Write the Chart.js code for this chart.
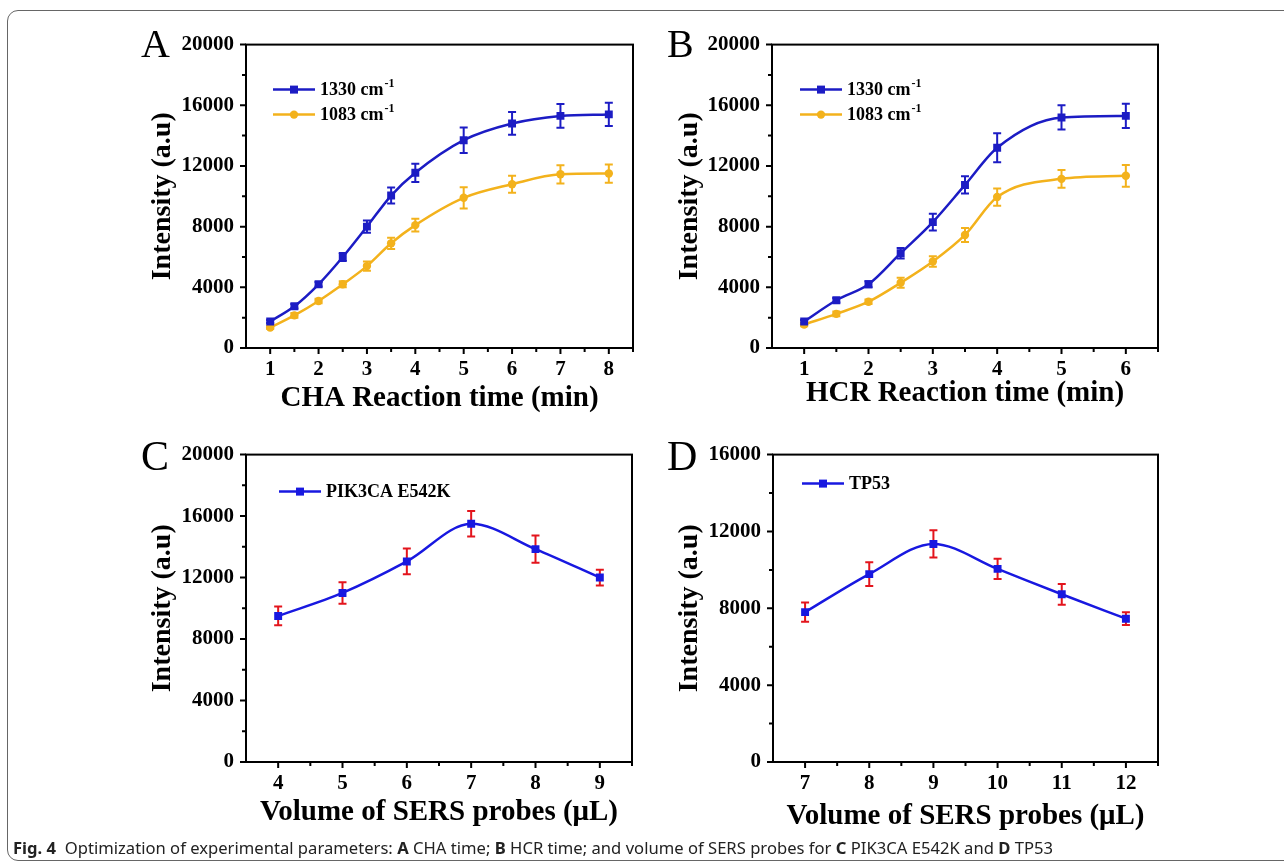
<!DOCTYPE html>
<html>
<head>
<meta charset="utf-8">
<script src="https://cdn.jsdelivr.net/npm/chart.js@4"></script>
<style>
  html, body { margin: 0; padding: 0; background: #fff; }
  body { width: 1284px; height: 866px; position: relative; overflow: hidden; }
  .frame { position: absolute; left: 7px; top: 10px; width: 1300px; height: 851px;
           border: 1.5px solid #666; border-radius: 11px; box-sizing: border-box; }
  canvas { position: absolute; }
  .tag { position: absolute; font-family: "Liberation Serif", serif; color: #000; line-height: 40px; }
  .caption { position: absolute; left: 13px; top: 837px; font-family: "Noto Sans", sans-serif;
             font-size: 16px; color: #222; white-space: nowrap; transform-origin: 0 0; }
  .caption b { font-weight: 700; }
</style>
</head>
<body>
<div class="frame"></div>

<canvas id="chartA" width="520" height="400" style="left:130px;top:20px"></canvas>
<canvas id="chartB" width="520" height="400" style="left:650px;top:20px"></canvas>
<canvas id="chartC" width="520" height="410" style="left:130px;top:430px"></canvas>
<canvas id="chartD" width="520" height="410" style="left:650px;top:430px"></canvas>

<div class="tag" style="left:141px;top:24px;font-size:40px">A</div>
<div class="tag" style="left:667px;top:24px;font-size:40px">B</div>
<div class="tag" style="left:141px;top:436px;font-size:42px">C</div>
<div class="tag" style="left:667px;top:436px;font-size:42px">D</div>

<div class="caption" id="caption"><b>Fig. 4</b>&nbsp; Optimization of experimental parameters: <b>A</b> CHA time; <b>B</b> HCR time; and volume of SERS probes for <b>C</b> PIK3CA E542K and <b>D</b> TP53</div>

<script>
// panel A - CHA reaction time
const timeA = [1, 1.5, 2, 2.5, 3, 3.5, 4, 5, 6, 7, 8];
const a1330 = [1750, 2750, 4200, 6000, 8000, 10050, 11550, 13700, 14800, 15300, 15400];
const a1330Err = [100, 150, 150, 270, 400, 530, 600, 840, 750, 780, 770];
const a1083 = [1350, 2150, 3100, 4200, 5400, 6900, 8100, 9900, 10800, 11450, 11500];
const a1083Err = [100, 150, 150, 200, 300, 370, 420, 700, 560, 600, 600];
const ticksA = [1, 2, 3, 4, 5, 6, 7, 8];

// panel B - HCR reaction time
const timeB = [1, 1.5, 2, 2.5, 3, 3.5, 4, 5, 6];
const b1330 = [1750, 3150, 4200, 6250, 8300, 10750, 13200, 15200, 15300];
const b1330Err = [100, 150, 200, 350, 550, 570, 960, 800, 800];
const b1083 = [1550, 2250, 3050, 4300, 5700, 7450, 9950, 11150, 11350];
const b1083Err = [120, 150, 150, 330, 350, 460, 570, 590, 720];
const ticksB = [1, 2, 3, 4, 5, 6];

// panel C - PIK3CA E542K probe volume
const volC = [4, 5, 6, 7, 8, 9];
const cPik = [9500, 11000, 13050, 15500, 13850, 12000];
const cPikErr = [610, 700, 840, 825, 880, 510];

// panel D - TP53 probe volume
const volD = [7, 8, 9, 10, 11, 12];
const dTp53 = [7800, 9780, 11350, 10050, 8730, 7460];
const dTp53Err = [500, 620, 710, 530, 540, 330];

const yTicks20k = [0, 4000, 8000, 12000, 16000, 20000];
const yTicks16k = [0, 4000, 8000, 12000, 16000];

const BLUE = '#1c1cc4';
const BLUE2 = '#1818e0';
const YELLOW = '#f3b21c';
const RED = '#e3141c';
const SERIF = '"Liberation Serif", "Times New Roman", serif';

function pts(xs, ys) {
  return xs.map((x, i) => ({ x: x, y: ys[i] }));
}

function marker(ctx, style, x, y, color) {
  ctx.fillStyle = color;
  if (style === 'rect') {
    ctx.fillRect(x - 4, y - 4, 8, 8);
  } else {
    ctx.beginPath();
    ctx.arc(x, y, 4.2, 0, Math.PI * 2);
    ctx.fill();
  }
}

// error bars, axis box, ticks and the in-plot legend
const frame = {
  id: 'frame',
  beforeDatasetsDraw(chart) {
    const ctx = chart.ctx;
    const ys = chart.scales.y;
    chart.data.datasets.forEach((ds, i) => {
      const meta = chart.getDatasetMeta(i);
      ctx.save();
      ctx.strokeStyle = ds.errorColor;
      ctx.lineWidth = 2;
      meta.data.forEach((p, j) => {
        const v = ds.data[j].y, e = ds.errors[j];
        const t = ys.getPixelForValue(v + e), b = ys.getPixelForValue(v - e);
        ctx.beginPath();
        ctx.moveTo(p.x, t); ctx.lineTo(p.x, b);
        ctx.moveTo(p.x - 4, t); ctx.lineTo(p.x + 4, t);
        ctx.moveTo(p.x - 4, b); ctx.lineTo(p.x + 4, b);
        ctx.stroke();
      });
      ctx.restore();
    });
  },
  afterDraw(chart, args, opts) {
    const ctx = chart.ctx;
    const a = chart.chartArea;
    const xs = chart.scales.x, ys = chart.scales.y;
    ctx.save();
    ctx.strokeStyle = '#000';
    ctx.lineWidth = 2;
    ctx.strokeRect(a.left, a.top, a.right - a.left, a.bottom - a.top);

    // ticks pointing out, minor ones halfway
    ctx.beginPath();
    const xt = opts.xTicks;
    for (let i = 0; i < xt.length; i++) {
      const px = xs.getPixelForValue(xt[i]);
      ctx.moveTo(px, a.bottom); ctx.lineTo(px, a.bottom + 6);
      const half = i < xt.length - 1 ? (xt[i] + xt[i + 1]) / 2 : xt[i] + (xt[i] - xt[i - 1]) / 2;
      const ph = xs.getPixelForValue(half);
      if (ph <= a.right + 1) { ctx.moveTo(ph, a.bottom); ctx.lineTo(ph, a.bottom + 4); }
    }
    const yt = opts.yTicks;
    for (let i = 0; i < yt.length; i++) {
      const py = ys.getPixelForValue(yt[i]);
      ctx.moveTo(a.left, py); ctx.lineTo(a.left - 6, py);
      if (i < yt.length - 1) {
        const ph = ys.getPixelForValue((yt[i] + yt[i + 1]) / 2);
        ctx.moveTo(a.left, ph); ctx.lineTo(a.left - 4, ph);
      }
    }
    ctx.stroke();

    // legend
    let ly = a.top + opts.legendTop;
    const lx = a.left + opts.legendLeft;
    chart.data.datasets.forEach((ds) => {
      ctx.strokeStyle = ds.borderColor;
      ctx.lineWidth = 2.5;
      ctx.beginPath();
      ctx.moveTo(lx, ly); ctx.lineTo(lx + 42, ly);
      ctx.stroke();
      marker(ctx, ds.pointStyle, lx + 21, ly, ds.borderColor);
      ctx.fillStyle = '#000';
      ctx.font = 'bold 18px ' + SERIF;
      ctx.textBaseline = 'middle';
      ctx.textAlign = 'left';
      ctx.fillText(ds.label, lx + 47, ly + 1);
      if (ds.sup) {
        const w = ctx.measureText(ds.label).width;
        ctx.font = 'bold 12px ' + SERIF;
        ctx.fillText(ds.sup, lx + 47 + w + 1, ly - 6);
      }
      ly += opts.legendGap;
    });
    ctx.restore();
  }
};

function series(label, sup, xs, ys, errs, color, style, errColor) {
  return {
    label: label,
    sup: sup,
    data: pts(xs, ys),
    errors: errs,
    errorColor: errColor || color,
    borderColor: color,
    backgroundColor: color,
    borderWidth: 2.5,
    cubicInterpolationMode: 'monotone',
    pointStyle: style,
    pointRadius: style === 'rect' ? 5.6 : 4.2,
    pointBorderWidth: 0,
    pointBackgroundColor: color
  };
}

function makeChart(id, cfg) {
  return new Chart(document.getElementById(id), {
    type: 'line',
    data: { datasets: cfg.datasets },
    options: {
      responsive: false,
      animation: false,
      devicePixelRatio: 1,
      layout: { padding: { left: 0, top: cfg.padTop, right: cfg.padRight, bottom: 0 } },
      plugins: {
        legend: { display: false },
        tooltip: { enabled: false },
        frame: {
          xTicks: cfg.xTicks, yTicks: cfg.yTicks,
          legendLeft: cfg.legendLeft, legendTop: cfg.legendTop, legendGap: 25
        }
      },
      scales: {
        x: {
          type: 'linear',
          min: cfg.xMin, max: cfg.xMax,
          grid: { display: false, drawTicks: false },
          border: { display: false },
          afterBuildTicks: (s) => { s.ticks = cfg.xTicks.map(v => ({ value: v })); },
          afterFit: (s) => { s.height = cfg.xH; },
          ticks: { padding: 9, color: '#000', font: { family: SERIF, size: 21, weight: 'bold' },
                   callback: (v) => String(v) },
          title: { display: true, text: cfg.xTitle, color: '#000',
                   font: { family: SERIF, size: 29, weight: 'bold' },
                   padding: { top: 0, bottom: cfg.xTitlePad } }
        },
        y: {
          min: 0, max: cfg.yMax,
          grid: { display: false, drawTicks: false },
          border: { display: false },
          afterBuildTicks: (s) => { s.ticks = cfg.yTicks.map(v => ({ value: v })); },
          afterFit: (s) => { s.width = cfg.yW; },
          ticks: { padding: 12, color: '#000', font: { family: SERIF, size: 21, weight: 'bold' },
                   callback: (v) => String(v) },
          title: { display: true, text: 'Intensity (a.u)', color: '#000',
                   font: { family: SERIF, size: 28, weight: 'bold' },
                   padding: { top: cfg.yTitlePad, bottom: 0 } }
        }
      }
    },
    plugins: [frame]
  });
}

function drawAll() {
  makeChart('chartA', {
    datasets: [
      series('1330 cm', '-1', timeA, a1330, a1330Err, BLUE, 'rect'),
      series('1083 cm', '-1', timeA, a1083, a1083Err, YELLOW, 'circle')
    ],
    xMin: 0.5, xMax: 8.5, xTicks: ticksA, yMax: 20000, yTicks: yTicks20k,
    padTop: 16, padRight: 17, yW: 116, xH: 72, yTitlePad: 16, xTitlePad: 4,
    xTitle: 'CHA Reaction time (min)', legendLeft: 27, legendTop: 45
  });
  makeChart('chartB', {
    datasets: [
      series('1330 cm', '-1', timeB, b1330, b1330Err, BLUE, 'rect'),
      series('1083 cm', '-1', timeB, b1083, b1083Err, YELLOW, 'circle')
    ],
    xMin: 0.5, xMax: 6.5, xTicks: ticksB, yMax: 20000, yTicks: yTicks20k,
    padTop: 16, padRight: 12, yW: 122, xH: 72, yTitlePad: 23, xTitlePad: 9,
    xTitle: 'HCR Reaction time (min)', legendLeft: 28, legendTop: 45
  });
  makeChart('chartC', {
    datasets: [
      series('PIK3CA E542K', '', volC, cPik, cPikErr, BLUE2, 'rect', RED)
    ],
    xMin: 3.5, xMax: 9.5, xTicks: volC, yMax: 20000, yTicks: yTicks20k,
    padTop: 21, padRight: 18, yW: 116, xH: 78, yTitlePad: 16, xTitlePad: 10,
    xTitle: 'Volume of SERS probes (\u03bcL)', legendLeft: 33, legendTop: 37
  });
  makeChart('chartD', {
    datasets: [
      series('TP53', '', volD, dTp53, dTp53Err, BLUE2, 'rect', RED)
    ],
    xMin: 6.5, xMax: 12.5, xTicks: volD, yMax: 16000, yTicks: yTicks16k,
    padTop: 21, padRight: 12, yW: 123, xH: 78, yTitlePad: 23, xTitlePad: 6,
    xTitle: 'Volume of SERS probes (\u03bcL)', legendLeft: 29, legendTop: 29
  });

  // squeeze the caption to the width it has in the figure
  const cap = document.getElementById('caption');
  const w = cap.getBoundingClientRect().width;
  cap.style.transform = 'scaleX(' + (1040 / w) + ')';
}

document.fonts.load('bold 20px "Liberation Serif"').then(drawAll, drawAll);
</script>
</body>
</html>
